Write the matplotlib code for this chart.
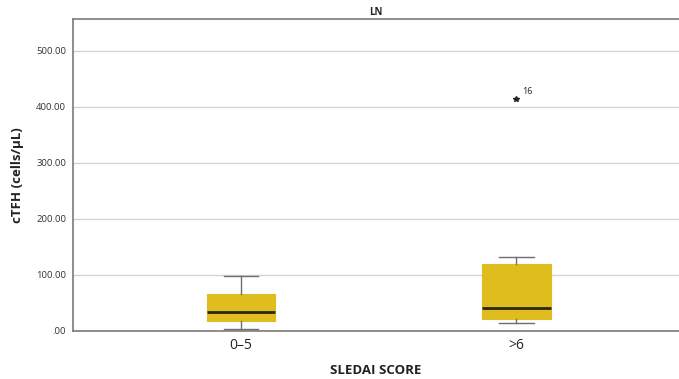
import matplotlib.pyplot as plt

# Box summary per SLEDAI group (cTFH, cells/uL)
categories = ["0\u20135", ">6"]
whisker_low = [3, 14]
q1 = [18, 22]
median = [34, 41]
q3 = [66, 119]
whisker_high = [99, 132]
outliers = [[], [414]]
outlier_ids = [[], ["16"]]

y_ticks = [0, 100, 200, 300, 400, 500]
y_tick_labels = [".00", "100.00", "200.00", "300.00", "400.00", "500.00"]

plt.rcParams["font.family"] = ["Open Sans", "DejaVu Sans"]

box_color = "#E0BD1F"
spine_color = "#7a7a7a"

fig = plt.figure(figsize=(6.79, 3.79), dpi=100)
ax = fig.add_axes([73 / 679, 48 / 379, 606 / 679, 312 / 379])

stats = []
for i, label in enumerate(categories):
    stats.append({
        "label": label,
        "whislo": whisker_low[i],
        "q1": q1[i],
        "med": median[i],
        "q3": q3[i],
        "whishi": whisker_high[i],
        "fliers": outliers[i],
    })

positions = list(range(len(categories)))
ax.bxp(
    stats,
    positions=positions,
    widths=0.247,
    patch_artist=True,
    boxprops=dict(facecolor=box_color, edgecolor=box_color, linewidth=0.8),
    medianprops=dict(color="#2a2714", linewidth=2.0),
    whiskerprops=dict(color="#6e6e6e", linewidth=1.0),
    capprops=dict(color="#6e6e6e", linewidth=1.0),
    capwidths=0.124,
    flierprops=dict(marker="*", markersize=4, markerfacecolor="#222222",
                    markeredgecolor="#222222", linestyle="none"),
    zorder=3,
)

for pos, values, ids in zip(positions, outliers, outlier_ids):
    for v, name in zip(values, ids):
        ax.annotate(name, (pos, v), xytext=(4, 4), textcoords="offset points",
                    fontsize=6.5, color="#222222")

ax.set_xlim(-0.61, 1.59)
ax.set_ylim(0, 557)
ax.set_yticks(y_ticks)
ax.set_yticklabels(y_tick_labels, fontsize=6.8, color="#333333")
ax.set_xticks(positions)
ax.set_xticklabels(categories, fontsize=10, color="#222222")
ax.tick_params(axis="both", length=0)
ax.tick_params(axis="y", pad=5)
ax.tick_params(axis="x", pad=5)

ax.grid(axis="y", color="#d4d4d4", linewidth=1.0, zorder=0)
ax.set_axisbelow(True)

for side in ["left", "top", "bottom"]:
    ax.spines[side].set_color(spine_color)
    ax.spines[side].set_linewidth(1.2)
ax.spines["right"].set_visible(False)

ax.set_title("LN", fontsize=7, fontweight="bold", color="#222222", pad=3)
ax.set_xlabel("SLEDAI SCORE", fontsize=9.5, fontweight="bold", color="#222222", labelpad=8)
ax.set_ylabel("cTFH (cells/\u03bcL)", fontsize=9.5, fontweight="bold", color="#222222", labelpad=9)

fig.savefig("out.png", dpi=100)
